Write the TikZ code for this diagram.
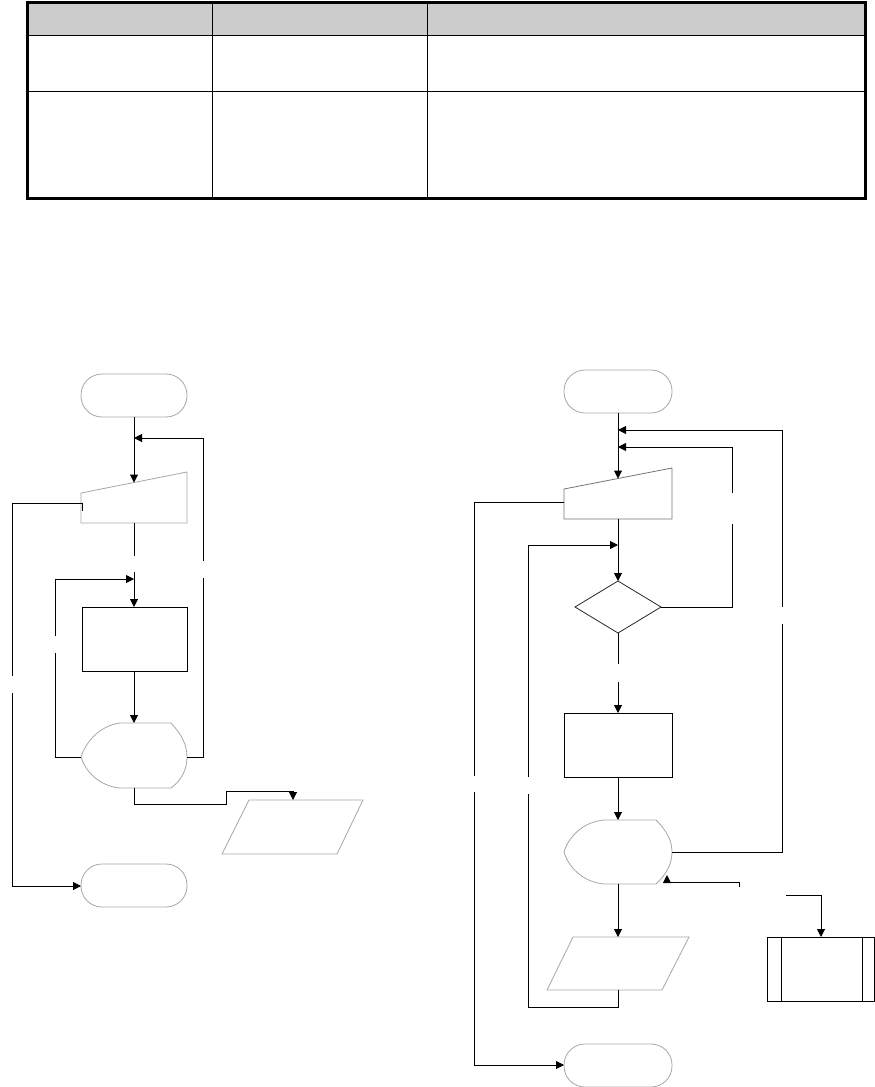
\documentclass[tikz,border=0pt]{standalone}
\usetikzlibrary{arrows.meta}
\begin{document}
\begin{tikzpicture}[x=1pt,y=-1pt,
  conn/.style={line width=1pt, black},
  arr/.style={conn,-{Triangle[length=8pt,width=8pt]}},
  gshape/.style={draw=gray!70, line width=0.8pt},
  bshape/.style={draw=black, line width=1pt}]
\useasboundingbox (0,0) rectangle (875,1087);

% ---------- table ----------
\fill[gray!40] (27,2) rectangle (865,35);
\draw[line width=1pt] (27,35) -- (865,35);
\draw[line width=1pt] (27,91) -- (865,91);
\draw[line width=0.8pt] (212,2) -- (212,198);
\draw[line width=0.8pt] (427,2) -- (427,198);
\draw[line width=3pt] (27,2) rectangle (865,198);

% ---------- left flowchart ----------
\draw[gshape,rounded corners=21pt] (81,374) rectangle (187,417);
\draw[gshape] (81,493) -- (187,472) -- (187,523) -- (81,523) -- cycle;
\draw[bshape] (82,607) rectangle (187,671);
\draw[gshape] (120,723) -- (171,723)
   .. controls (182,735) and (187,745) .. (187,757)
   .. controls (187,769) and (182,780) .. (171,788)
   -- (120,788)
   .. controls (98,786) and (85,770) .. (81,757)
   .. controls (85,744) and (98,726) .. (120,723) -- cycle;
\draw[gshape] (249,800) -- (363,800) -- (337,854) -- (222,854) -- cycle;
\draw[gshape,rounded corners=21pt] (81,864) rectangle (187,907);

\coordinate (L1s) at (134,417);
\coordinate (L2t) at (134,482.5);
\coordinate (L2b) at (134,523);
\coordinate (L2l) at (82,511);
\coordinate (L3t) at (134,607);
\coordinate (L3b) at (134,671);
\coordinate (L4t) at (134,723);
\coordinate (L4b) at (134,788);
\coordinate (L4l) at (81,757);
\coordinate (L4r) at (187,757);
\coordinate (L5t) at (293,800);
\coordinate (L6l) at (81,886);
\coordinate (J1) at (134,438);
\coordinate (J2) at (134,579);

\draw[arr] (L1s) -- (L2t);
\draw[conn] (L4r) -| (203,578);
\draw[arr] (203,561) |- (J1);
\draw[conn] (L2b) -- (134,556);
\draw[arr] (134,572) -- (L3t);
\draw[conn] (L4l) -| (55,653);
\draw[arr] (55,636) |- (J2);
\draw[arr] (L3b) -- (L4t);
\draw[arr] (L4b) -- (134,804) -| (226,791) -| (L5t);
\draw[conn] (L2l) -- (82,503) -| (12,676);
\draw[arr] (12,693) |- (L6l);

% ---------- right flowchart ----------
\draw[gshape,rounded corners=21pt] (564,370) rectangle (672,413);
\draw[draw=gray!90!black,line width=0.8pt] (564,489) -- (672,468) -- (672,519) -- (564,519) -- cycle;
\draw[draw=black!85,line width=0.8pt] (618,581) -- (661,607) -- (618,633) -- (575,607) -- cycle;
\draw[bshape] (564,713) rectangle (672,777);
\draw[gshape] (604,820) -- (656,820)
   .. controls (667,831) and (672,841) .. (672,852)
   .. controls (672,863) and (667,874) .. (656,884)
   -- (604,884)
   .. controls (582,882) and (568,866) .. (564,852)
   .. controls (568,838) and (582,822) .. (604,820) -- cycle;
\draw[gshape] (573,937) -- (689,937) -- (662,990) -- (547,990) -- cycle;
\draw[gshape,rounded corners=21pt] (564,1044) rectangle (672,1087);
\draw[bshape] (767,937) rectangle (874,1001);
\draw[bshape] (781,937) -- (781,1001);
\draw[bshape] (862,937) -- (862,1001);

\coordinate (R1s) at (618,413);
\coordinate (R2t) at (618,478.5);
\coordinate (R2b) at (618,519);
\coordinate (R2l) at (564,502);
\coordinate (R3t) at (618,581);
\coordinate (R3r) at (661,607);
\coordinate (R3b) at (618,633);
\coordinate (R4t) at (618,713);
\coordinate (R4b) at (618,777);
\coordinate (R5t) at (618,820);
\coordinate (R5b) at (618,884);
\coordinate (R5r) at (672,852);
\coordinate (R5e) at (667,875);
\coordinate (R6t) at (618,937);
\coordinate (R6b) at (618,990);
\coordinate (R7l) at (564,1065);
\coordinate (St) at (821,937);
\coordinate (RJ1) at (618,430);
\coordinate (RJ2) at (618,447);
\coordinate (RJ3) at (618,545);

\draw[arr] (R1s) -- (R2t);
\draw[conn] (R5r) -| (782,624);
\draw[arr] (782,607) |- (RJ1);
\draw[conn] (R3r) -| (732,524);
\draw[arr] (732,493) |- (RJ2);
\draw[arr] (R2b) -- (R3t);
\draw[conn] (R3b) -- (618,664);
\draw[arr] (618,682) -- (R4t);
\draw[arr] (R4b) -- (R5t);
\draw[arr] (R5b) -- (R6t);
\draw[conn] (R6b) -- (618,1007) -| (528,794);
\draw[arr] (528,777) |- (RJ3);
\draw[conn] (R2l) -| (474,776);
\draw[arr] (474,792) |- (R7l);
\draw[arr] (739,887) -- (739,882) -| (R5e);
\draw[arr] (786,895) -| (St);
\end{tikzpicture}
\end{document}
